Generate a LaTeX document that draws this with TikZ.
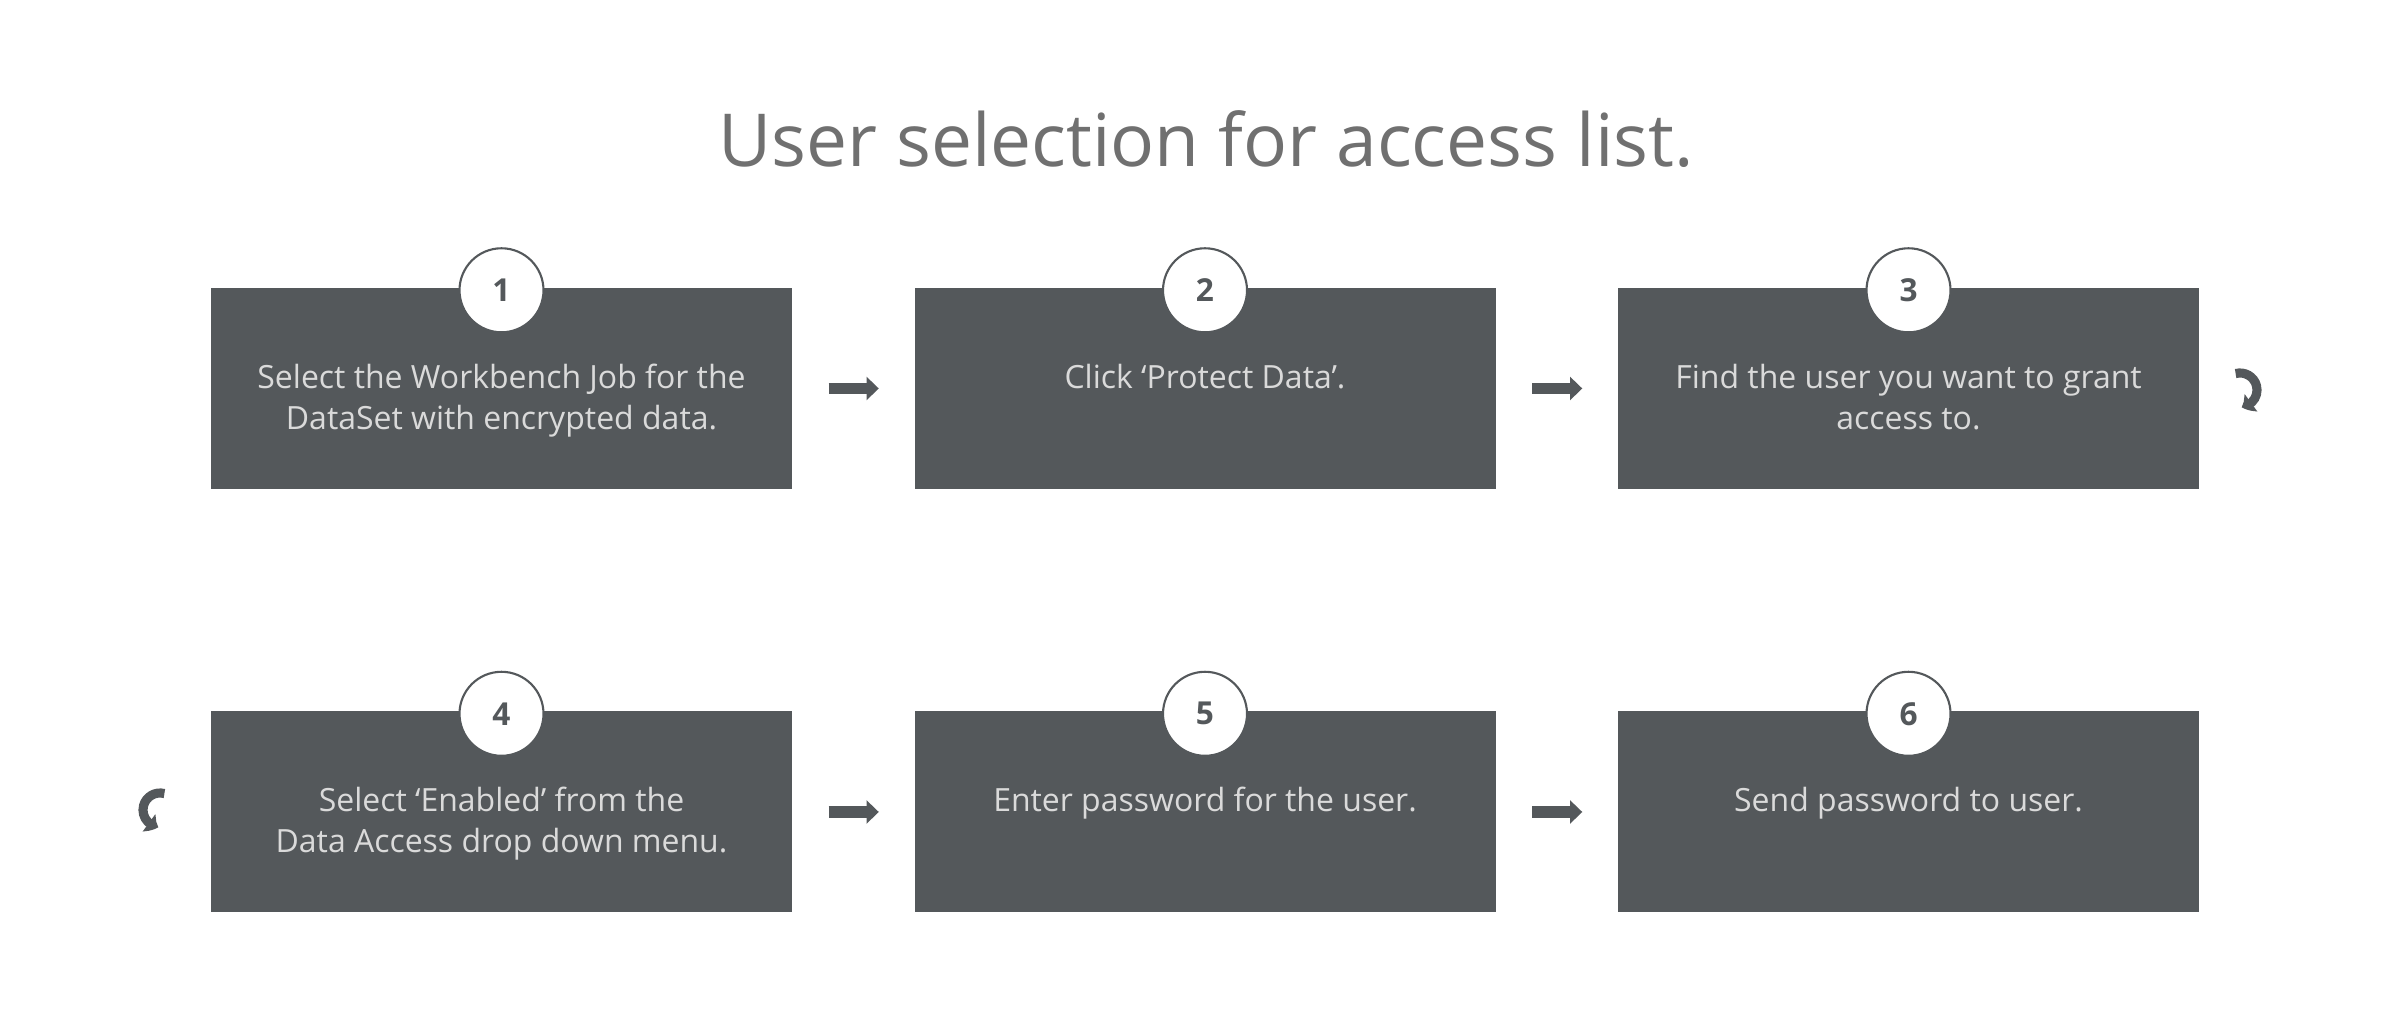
\documentclass[tikz,border=0pt]{standalone}
\usepackage{fontspec}
\setmainfont{Open Sans}
\usetikzlibrary{arrows.meta,bending}

\definecolor{boxgray}{HTML}{54585B}
\definecolor{textgray}{HTML}{DADADA}
\definecolor{titlegray}{HTML}{707070}

\tikzset{
	stepbox/.style={fill=boxgray, minimum width=5.81cm, minimum height=2.01cm, inner sep=0pt},
	steptext/.style={anchor=north, align=center, text=textgray, inner sep=0pt, font=\fontsize{9.1}{11.6}\selectfont},
	stepnum/.style={circle, draw=boxgray, line width=0.6pt, fill=white, minimum size=0.84cm, inner sep=0pt, text=boxgray, font=\fontsize{9}{10}\selectfont\bfseries},
	stepnext/.style={draw=boxgray, line width=3.2pt, -{Triangle[length=3.5pt,width=6.5pt]}},
	stepturn/.style={draw=boxgray, line width=2.6pt, -{Triangle[length=3pt,width=6pt,bend]}}
}

\begin{document}
\begin{tikzpicture}

	\useasboundingbox (0,0) rectangle (24.02,10.14);

	% Tittel
	\node [anchor=base, text=titlegray, font=\fontsize{20.8}{25}\selectfont] (title) at (12.06,8.47) {User selection for access list.};

	% Bokser
	\node [stepbox] (b1) at (5.015,6.255) {};
	\node [stepbox] (b2) at (12.05,6.255) {};
	\node [stepbox] (b3) at (19.085,6.255) {};
	\node [stepbox] (b4) at (5.015,2.02) {};
	\node [stepbox] (b5) at (12.05,2.02) {};
	\node [stepbox] (b6) at (19.085,2.02) {};

	% Tekst
	\node [steptext] (t1) at ([yshift=-0.76cm]b1.north) {Select the Workbench Job for the\\DataSet with encrypted data.};
	\node [steptext] (t2) at ([yshift=-0.76cm]b2.north) {Click ‘Protect Data’.};
	\node [steptext] (t3) at ([yshift=-0.76cm]b3.north) {Find the user you want to grant\\access to.};
	\node [steptext] (t4) at ([yshift=-0.76cm]b4.north) {Select ‘Enabled’ from the\\Data Access drop down menu.};
	\node [steptext] (t5) at ([yshift=-0.76cm]b5.north) {Enter password for the user.};
	\node [steptext] (t6) at ([yshift=-0.76cm]b6.north) {Send password to user.};

	% Nummer
	\foreach \i in {1,...,6}
		\node [stepnum] (n\i) at ([yshift=-0.03cm]b\i.north) {\i};

	% Piler
	\draw [stepnext] ([xshift=0.36cm]b1.east) -- ([xshift=-0.35cm]b2.west);
	\draw [stepnext] ([xshift=0.36cm]b2.east) -- ([xshift=-0.35cm]b3.west);
	\draw [stepnext] ([xshift=0.36cm]b4.east) -- ([xshift=-0.35cm]b5.west);
	\draw [stepnext] ([xshift=0.36cm]b5.east) -- ([xshift=-0.35cm]b6.west);

	% Svinger
	\coordinate (s3) at (22.40,6.24);
	\coordinate (s4) at (1.60,2.04);
	\draw [stepturn] ([shift={(105:0.17)}]s3) arc [start angle=105, end angle=-85, radius=0.17];
	\draw [stepturn] ([shift={(75:0.17)}]s4) arc [start angle=75, end angle=265, radius=0.17];

\end{tikzpicture}
\end{document}
